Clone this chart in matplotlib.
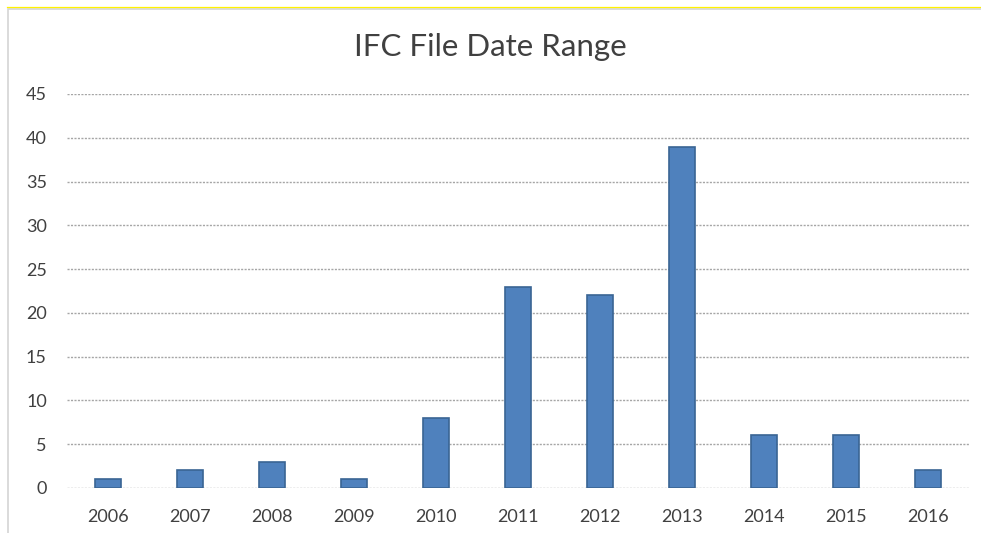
import matplotlib
matplotlib.use("Agg")
import matplotlib.pyplot as plt
from matplotlib.patches import Rectangle

years = ["2006", "2007", "2008", "2009", "2010", "2011", "2012", "2013", "2014", "2015", "2016"]
counts = [1, 2, 3, 1, 8, 23, 22, 39, 6, 6, 2]
yticks = [0, 5, 10, 15, 20, 25, 30, 35, 40, 45]

plt.rcParams['font.family'] = ['Lato', 'DejaVu Sans']

W, H = 981, 533
fig = plt.figure(figsize=(W / 100, H / 100), dpi=100)
fig.patch.set_facecolor("white")

# chart frame (extends past right and bottom edges of the image)
fig.add_artist(Rectangle((7.5 / W, -0.05), 1.0, 1 - 9 / H + 0.05,
                         transform=fig.transFigure, fill=False,
                         edgecolor="#D4D4D4", linewidth=1.2))
fig.add_artist(plt.Line2D([7 / W, 1], [1 - 7 / H, 1 - 7 / H], transform=fig.transFigure,
                          color="#FFF200", linewidth=0.9))

left, right = 67 / W, 969 / W
bottom, top = 1 - 488 / H, 1 - 94 / H
ax = fig.add_axes([left, bottom, right - left, top - bottom])

x = list(range(len(years)))
ax.bar(x, counts, width=0.31, color="#4F81BD", edgecolor="#3A6594", linewidth=1.2, zorder=3)
ax.set_xlim(-0.5, len(years) - 0.5)
ax.set_ylim(0, 45)
ax.set_yticks(yticks)
ax.set_yticklabels([str(v) for v in yticks])
ax.set_xticks(x)
ax.set_xticklabels(years)
ax.grid(axis="y", linestyle=(0, (1.5, 1)), color="#A6A6A6", linewidth=1.0, zorder=0)
ax.set_axisbelow(True)
for s in ax.spines.values():
    s.set_visible(False)
ax.tick_params(axis="both", length=0, labelsize=13, colors="#404040")
ax.tick_params(axis="y", pad=14.5)
ax.tick_params(axis="x", pad=15)
for lbl in ax.get_yticklabels():
    lbl.set_horizontalalignment("right")

fig.text(0.5, 1 - 47 / H, "IFC File Date Range", ha="center", va="center",
         fontsize=22.5, color="#404040")

fig.savefig("out.png", dpi=100, facecolor="white")
